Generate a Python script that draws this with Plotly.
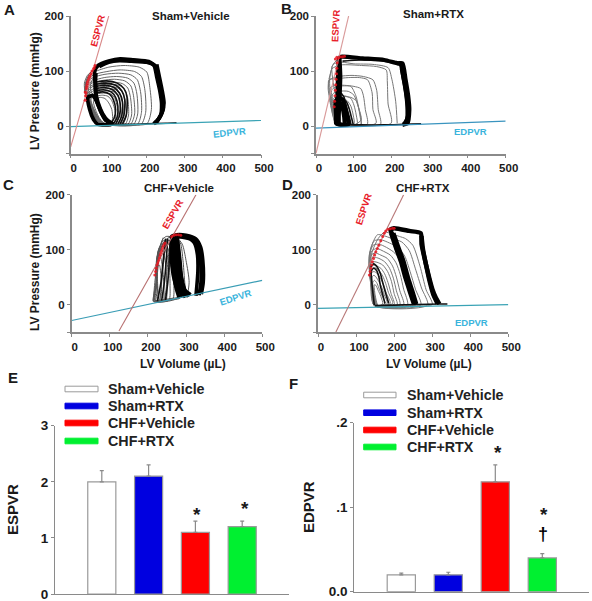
import plotly.graph_objects as go

W, H = 592, 601

# ---------- pressure-volume loop data (V uL, P mmHg) ----------
A_THICK = [
    [(218,4),(232,14),(243,30),(240,55),(232,80),(224,108),(205,117),(165,120),(130,122),(100,118),(72,110),(63,100),(64,80),(68,47),(78,28),(90,12),(108,3)],
    [(222,5),(236,18),(239,40),(234,65),(226,90),(219,110),(200,116),(160,118),(128,119),(100,116),(75,108)],
    [(226,7),(240,25),(245,42),(240,65),(232,92),(226,112)],
    [(107,3),(92,12),(80,25),(68,45),(58,55),(45,52),(50,30),(60,12),(72,3),(90,2),(107,3)],
    [(112,3),(97,10),(84,22),(72,42),(66,60),(65,80),(66,96)],
]
A_MID = [
    [(105,4),(114,14),(118,30),(112,48),(102,58),(84,62),(68,60)],
    [(112,4),(122,16),(124,36),(118,52),(106,62),(86,66),(68,64)],
    [(118,4),(128,18),(130,40),(124,56),(110,66),(88,70),(68,68)],
    [(124,4),(134,18),(136,44),(128,60),(114,70),(90,74),(68,72)],
    [(130,4),(140,20),(142,48),(134,64),(118,74),(92,78),(68,76)],
    [(136,4),(146,20),(148,52),(140,68),(122,78),(94,82),(68,80)],
    [(100,3),(150,3),(200,4),(250,5),(278,6)],
    [(66,92),(66,70),(70,44),(84,18),(100,4)],
]
A_THIN = [
    [(200,4),(212,30),(208,70),(200,98),(180,107),(140,110),(100,107),(62,98),(42,85),(38,62),(48,40),(62,18),(80,4),(140,3),(200,4)],
    [(185,3),(197,25),(195,65),(186,90),(168,99),(130,102),(95,99),(60,93),(40,80),(38,60),(50,35),(66,12),(85,3),(130,3),(185,3)],
    [(175,3),(186,25),(184,60),(175,84),(158,93),(125,96),(90,94),(58,88),(40,76),(39,58),(52,33),(68,12),(88,3),(175,3)],
    [(165,3),(176,22),(174,58),(166,78),(150,87),(120,90),(88,88),(58,82),(40,72),(40,56),(54,32),(70,10),(90,3),(165,3)],
    [(157,3),(168,22),(165,55),(158,73),(142,82),(115,85),(85,83),(56,78),(41,68),(41,54),(56,30),(72,10),(92,3),(157,3)],
    [(150,3),(160,20),(157,52),(150,69),(136,77),(110,80),(84,79),(56,74),(42,65),(42,52),(58,28),(74,10),(94,3),(150,3)],
    [(143,3),(152,20),(150,50),(143,65),(130,73),(106,76),(82,75),(56,71),(44,62),(44,52),(60,28),(76,9),(95,3),(143,3)],
    [(136,3),(146,18),(143,46),(136,61),(124,69),(102,72),(80,71),(58,67),(46,60),(46,52),(62,26),(78,8),(96,3),(136,3)],
    [(130,3),(138,18),(136,44),(130,58),(118,66),(98,68),(78,67),(60,64),(48,58),(48,50),(64,24),(80,8),(98,3),(130,3)],
    [(124,3),(132,16),(130,40),(124,54),(112,62),(94,64),(76,63),(60,60),(50,55),(50,48),(66,22),(82,7),(100,3),(124,3)],
    [(118,3),(125,16),(122,36),(116,50),(106,58),(90,60),(74,59),(62,57),(52,53),(52,46),(68,20),(84,6),(118,3)],
    [(112,3),(118,14),(115,32),(108,46),(98,54),(84,56),(72,55),(62,53),(54,50),(55,42),(70,18),(86,5),(112,3)],
    [(105,3),(110,14),(108,30),(100,42),(90,50),(78,52),(68,50),(60,46),(62,36),(74,16),(88,5),(105,3)],
    [(60,102),(44,92),(36,78),(38,60),(44,50)],
    [(64,104),(50,96),(42,84),(42,66),(48,52)],
    [(66,98),(54,90),(46,78),(48,62),(54,54)],
    [(70,96),(58,86),(52,74),(54,62),(60,56)],
]
A_ES_V = [38,39,38,40,41,42,43,44,46,48,50,53,56,60,64,62]
A_ES_P = [47,55,62,60,68,72,76,80,84,88,91,95,100,104,110,106]

B_THICK = [
    [(228,2),(241,5),(246,29),(243,55),(236,85),(228,114),(215,114),(180,120),(123,123),(66,126),(61,123),(58,90),(56,50),(54,20),(53,5),(70,2)],
    [(232,3),(240,12),(241,35),(237,62),(230,90),(223,112),(210,115)],
    [(236,4),(243,20),(240,50),(233,80),(226,105)],
    [(62,122),(64,90),(62,50),(60,20),(60,4)],
    [(85,3),(82,18),(76,36),(70,48),(60,52),(52,45),(53,20),(55,4),(85,3)],
    [(76,3),(74,18),(70,34),(66,44)],
]
B_MID = [
    [(92,3),(88,16),(80,35),(74,52),(66,60)],
    [(98,3),(94,14),(88,30),(80,44),(68,50)],
    [(70,118),(120,120),(180,118),(222,111)],
    [(70,3),(120,2),(180,2),(230,3),(277,4)],
]
B_THIN = [
    [(198,5),(190,40),(188,80),(185,102),(160,108),(120,110),(66,111),(42,104),(36,84),(38,55),(46,20),(52,4),(100,2),(198,5)],
    [(170,3),(164,30),(160,65),(150,84),(125,90),(95,92),(60,90),(36,84),(32,70),(38,40),(48,12),(55,3),(100,2),(170,3)],
    [(158,5),(150,30),(148,60),(136,84),(115,88),(85,88),(55,86),(34,84),(36,55),(44,20),(54,3),(158,5)],
    [(135,3),(130,30),(125,55),(118,68),(100,72),(75,74),(52,74),(38,70),(40,45),(48,15),(56,3),(135,3)],
    [(119,11),(112,35),(105,55),(92,72),(75,73),(55,72),(42,66),(42,40),(50,12),(58,3),(100,2),(119,11)],
    [(118,3),(118,16),(110,38),(100,56),(85,63),(60,63),(44,58),(46,30),(54,6),(118,3)],
    [(108,3),(106,20),(100,38),(92,50),(75,55),(58,55),(46,50),(50,22),(56,4),(108,3)],
    [(100,3),(98,20),(92,36),(82,46),(68,50),(54,47),(50,30),(56,6),(100,3)],
    [(120,3),(116,18),(112,34),(106,46),(92,52),(72,54)],
    [(214,5),(210,45),(200,85),(190,106),(150,112),(100,113),(68,116),(50,114),(42,108),(50,60)],
    [(55,120),(45,112),(38,95),(34,85)],
]
B_ES_V = [48,49,50,51,52,53,54,55,56,57,51,55,60,65,70,75]
B_ES_P = [35,45,55,65,75,85,95,105,115,123,122,125,124,126,126,127]

C_THICK = [
    [(340,19),(345,40),(344,80),(338,105),(325,120),(300,126),(275,127),(262,124),(270,90),(276,50),(290,30),(312,18)],
    [(334,17),(339,40),(338,80),(332,106),(318,120),(296,124),(272,124),(264,122),(267,90),(272,55),(284,32),(306,18)],
    [(326,16),(331,60),(330,90),(322,112),(305,122),(285,124),(268,122),(262,90),(266,55),(278,28),(300,15)],
    [(306,14),(296,28),(288,50),(284,80),(280,105),(278,122),(296,125),(316,119)],
    [(298,13),(288,28),(282,50),(277,80),(274,105),(272,122)],
    [(302,16),(292,34),(285,60),(281,90),(277,118)],
    [(290,14),(280,34),(274,60),(270,90),(267,120)],
    [(282,12),(274,30),(268,55),(265,90),(263,118)],
    [(310,120),(295,122),(280,124),(265,124)],
]
C_MID = [
    [(246,8),(252,40),(256,80),(258,118)],
    [(236,7),(243,40),(248,80),(252,120)],
    [(225,6),(234,40),(240,80),(246,120)],
]
C_THIN = [
    [(300,15),(308,40),(300,80),(290,110),(275,122),(255,122),(240,112),(230,90),(226,65),(222,35),(216,8),(240,9),(270,12),(300,15)],
    [(285,12),(290,40),(283,80),(272,108),(258,116),(245,115),(232,100),(224,75),(222,45),(216,20),(214,6),(245,8),(285,12)],
    [(275,11),(278,35),(272,70),(262,100),(250,114),(240,116),(228,100),(222,70),(222,40),(216,15),(216,5),(275,11)],
    [(265,10),(268,35),(264,70),(256,96),(246,110),(236,110),(226,92),(221,65),(222,35),(218,8),(265,10)],
    [(255,8),(258,35),(256,70),(250,90),(240,106),(230,104),(224,85),(221,60),(222,30),(220,6),(255,8)],
    [(247,8),(250,30),(248,60),(244,85),(236,100),(228,98),(222,78),(222,50),(224,25),(222,6),(247,8)],
    [(240,7),(242,30),(240,55),(236,78),(230,92),(226,88),(224,65),(224,40),(226,18),(226,6),(240,7)],
    [(300,16),(296,45),(292,80),(285,112),(270,122),(248,124),(238,118),(228,95),(222,60)],
    [(232,6),(236,30),(234,55),(230,72),(226,70),(225,45),(228,15),(232,6)],
    [(240,122),(234,108),(226,88),(223,70),(218,40),(214,6)],
    [(250,120),(245,100),(240,70),(236,40),(232,12)],
    [(262,122),(255,95),(250,60),(248,30),(244,10)],
]
C_ES_V = [218,220,222,224,226,228,230,232,234,236,238,240,243,245,262,268,274,280,286]
C_ES_P = [54,60,66,72,76,80,85,90,94,98,102,106,110,112,124,126,127,127,126]

D_THICK = [
    [(319,1),(310,12),(301,27),(290,55),(279,87),(272,110),(270,130),(240,134),(200,139),(190,136),(196,127),(208,100),(222,75),(235,45),(247,18),(257,0)],
    [(314,2),(303,18),(294,40),(284,72),(276,100),(272,125)],
    [(252,1),(242,22),(230,48),(218,78),(204,105),(192,130)],
    [(258,1),(247,26),(236,50),(224,80),(210,106),(198,130)],
]
D_MID = [
    [(176,2),(170,18),(164,34),(160,50),(154,62),(146,66),(140,60),(142,36),(148,-1)],
    [(186,2),(178,20),(170,40),(164,56),(156,68),(146,74),(139,68)],
    [(150,-2),(200,-1),(260,0),(320,1),(340,1)],
]
D_THIN = [
    [(300,0),(284,27),(268,70),(249,108),(230,120),(214,124),(196,128),(175,132),(158,120),(142,95),(136,60),(142,25),(148,-1),(220,-1),(300,0)],
    [(288,-1),(272,30),(256,65),(240,98),(220,114),(195,120),(170,126),(156,127),(140,105),(135,75),(138,40),(148,-2),(288,-1)],
    [(270,-1),(256,28),(242,60),(228,88),(210,104),(188,112),(165,118),(148,116),(136,96),(134,72),(140,30),(148,-2),(270,-1)],
    [(250,-1),(238,30),(228,58),(216,82),(198,96),(180,104),(160,110),(145,108),(135,90),(135,65),(142,25),(148,-2),(250,-1)],
    [(235,-1),(225,28),(216,55),(205,76),(190,90),(172,97),(155,102),(142,98),(135,82),(136,60),(142,22),(149,-2),(235,-1)],
    [(225,-1),(215,25),(206,50),(196,70),(182,84),(165,90),(150,94),(140,90),(136,75),(137,55),(144,20),(150,-2),(225,-1)],
    [(215,-1),(206,25),(198,48),(188,66),(175,78),(160,84),(148,86),(139,82),(136,68),(138,50),(145,20),(150,-2),(215,-1)],
    [(208,-1),(200,20),(193,42),(183,60),(170,72),(155,77),(145,78),(138,74),(136,60),(140,40),(146,15),(152,-2),(208,-1)],
    [(200,0),(192,20),(184,40),(175,56),(165,66),(152,71),(143,72),(137,66),(138,50),(142,30),(148,10),(152,-2),(200,0)],
    [(196,2),(185,22),(178,38),(170,52),(160,62),(150,67),(142,66),(138,58),(140,42),(146,18),(154,-2),(196,2)],
    [(190,2),(180,20),(172,36),(164,48),(155,57),(147,60),(141,58),(140,45),(145,22),(155,-2),(190,2)],
    [(182,2),(174,18),(166,34),(158,44),(150,52),(145,53),(142,48),(146,24),(156,-2),(182,2)],
    [(176,2),(168,16),(160,30),(154,40),(148,44),(144,40),(148,20),(157,-2),(176,2)],
    [(170,1),(165,15),(158,26),(152,35),(148,36),(150,18),(158,-2),(170,1)],
]
D_ES_V = [135,137,139,141,143,146,149,152,156,160,165,170,174,178,184,190,196,200]
D_ES_P = [54,60,66,72,78,84,90,96,102,108,116,124,130,134,137,138,139,139]

# ---------- ESPVR / EDPVR endpoints ----------
ESPVR_V = {"A": [0, 100], "B": [0, 86], "C": [124, 326], "D": [47, 225]}
ESPVR_P = {"A": [-38, 200], "B": [-50, 200], "C": [-48, 200], "D": [-50, 200]}
EDPVR_V = [0, 500]
EDPVR_P = {"A": [-1, 10], "B": [-4, 9], "C": [-29, 44], "D": [-7, 0]}

# ---------- bar data ----------
GROUPS = ["Sham+Vehicle", "Sham+RTX", "CHF+Vehicle", "CHF+RTX"]
COLORS = ["#ffffff", "#0000e0", "#ff0000", "#00f030"]
ESPVR_VAL = [2.0, 2.1, 1.1, 1.2]
ESPVR_ERR = [0.2, 0.2, 0.2, 0.1]
EDPVR_VAL = [0.02, 0.02, 0.13, 0.04]
EDPVR_ERR = [0.002, 0.003, 0.02, 0.005]

FONT = "Liberation Sans"
AX = "#8a8a8a"
fig = go.Figure()

def px(x): return x / W
def py(y): return 1 - y / H

def text(s, x, y, size=12, color="#1a1a1a", angle=0, anchor="center", bold=True):
    fig.add_annotation(text=f"<b>{s}</b>" if bold else s, x=px(x), y=py(y), xref="paper", yref="paper",
                       showarrow=False, xanchor=anchor, yanchor="middle", textangle=angle,
                       font=dict(family=FONT, size=size, color=color))

panels = {
    "A": dict(xd=(70.7, 261), yd=(16, 153.5), thick=A_THICK, mid=A_MID, thin=A_THIN, es=(A_ES_V, A_ES_P), n=1, cy="#3aa3b5", cr="#d98a8a", tw=3.8, tc="#666666"),
    "B": dict(xd=(316, 505.7), yd=(16, 153.5), thick=B_THICK, mid=B_MID, thin=B_THIN, es=(B_ES_V, B_ES_P), n=2, cy="#3a94bf", cr="#d99a9a", tw=4.2, tc="#777777"),
    "C": dict(xd=(71.7, 262.3), yd=(194.7, 332), thick=C_THICK, mid=C_MID, thin=C_THIN, es=(C_ES_V, C_ES_P), n=3, cy="#3a9db5", cr="#b87070", tw=3.6, tc="#555555"),
    "D": dict(xd=(318, 508.3), yd=(194.7, 332), thick=D_THICK, mid=D_MID, thin=D_THIN, es=(D_ES_V, D_ES_P), n=4, cy="#3aa3b5", cr="#b87878", tw=4.4, tc="#777777"),
}

layout_axes = {}
tick_font = dict(family=FONT, size=11.5, color="#1a1a1a", weight="bold")
for key, p in panels.items():
    n = p["n"]
    xname, yname = f"x{n}", f"y{n}"
    sx = dict(anchor=yname, domain=[px(p["xd"][0]), px(p["xd"][1])], range=[0, 500], automargin=False,
              tickvals=[0, 100, 200, 300, 400, 500], ticks="outside", ticklen=3, tickcolor=AX,
              showline=True, linecolor=AX, linewidth=1.5, showgrid=False, zeroline=False,
              tickfont=tick_font, ticklabelshift=3)
    sy = dict(anchor=xname, domain=[py(p["yd"][1]), py(p["yd"][0])], range=[-50, 200], automargin=False,
              tickvals=[-50, 0, 100, 200], ticktext=["", "0", "100", "200"], ticks="outside", ticklen=3, tickcolor=AX,
              showline=True, linecolor=AX, linewidth=1.5, showgrid=False, zeroline=False,
              tickfont=tick_font)
    layout_axes[f"xaxis{n}"] = sx
    layout_axes[f"yaxis{n}"] = sy
    for lp in p["thin"]:
        fig.add_trace(go.Scatter(x=[a for a, _ in lp], y=[b for _, b in lp], xaxis=xname, yaxis=yname, mode="lines",
                                 line=dict(color=p["tc"], width=1, shape="spline", smoothing=0.7),
                                 showlegend=False, hoverinfo="skip"))
    for lp in p["mid"]:
        fig.add_trace(go.Scatter(x=[a for a, _ in lp], y=[b for _, b in lp], xaxis=xname, yaxis=yname, mode="lines",
                                 line=dict(color="#111111", width=1.6, shape="spline", smoothing=0.7),
                                 showlegend=False, hoverinfo="skip"))
    for lp in p["thick"]:
        fig.add_trace(go.Scatter(x=[a for a, _ in lp], y=[b for _, b in lp], xaxis=xname, yaxis=yname, mode="lines",
                                 line=dict(color="#000000", width=p["tw"], shape="spline", smoothing=0.6),
                                 showlegend=False, hoverinfo="skip"))
    fig.add_trace(go.Scatter(x=EDPVR_V, y=EDPVR_P[key], xaxis=xname, yaxis=yname, mode="lines",
                             line=dict(color=p["cy"], width=1.2), showlegend=False, hoverinfo="skip"))
    fig.add_trace(go.Scatter(x=ESPVR_V[key], y=ESPVR_P[key], xaxis=xname, yaxis=yname, mode="lines",
                             line=dict(color=p["cr"], width=1.1), showlegend=False, hoverinfo="skip"))
    fig.add_trace(go.Scatter(x=p["es"][0], y=p["es"][1], xaxis=xname, yaxis=yname, mode="markers",
                             marker=dict(color="#e8141e", size=3), opacity=0.85, showlegend=False, hoverinfo="skip"))

# bars
bar_panels = [
    dict(n=5, vals=ESPVR_VAL, errs=ESPVR_ERR, xd=(55, 289), yd=(425.7, 594), rng=[0, 3], tv=[0, 1, 2, 3], tt=["0", "1", "2", "3"]),
    dict(n=6, vals=EDPVR_VAL, errs=EDPVR_ERR, xd=(354.3, 589.3), yd=(422.7, 591.7), rng=[0, 0.2], tv=[0, 0.1, 0.2], tt=["0.0", ".1", ".2"]),
]
for b in bar_panels:
    n = b["n"]
    fig.add_trace(go.Bar(x=[0, 1, 2, 3], y=b["vals"], width=0.6, xaxis=f"x{n}", yaxis=f"y{n}",
                         marker=dict(color=COLORS, line=dict(color="#9a9a9a", width=1.2)),
                         error_y=dict(type="data", symmetric=False, array=b["errs"], arrayminus=[0, 0, 0, 0],
                                      color="#8a8a8a", thickness=1.2, width=2),
                         showlegend=False, hoverinfo="skip"))
    layout_axes[f"xaxis{n}"] = dict(anchor=f"y{n}", domain=[px(b["xd"][0]), px(b["xd"][1])], range=[-1, 4], automargin=False,
                                    showticklabels=False, ticks="", showgrid=False, zeroline=False,
                                    showline=True, linecolor=AX, linewidth=1.3)
    layout_axes[f"yaxis{n}"] = dict(anchor=f"x{n}", domain=[py(b["yd"][1]), py(b["yd"][0])], range=b["rng"], automargin=False,
                                    tickvals=b["tv"], ticktext=b["tt"], ticks="outside", ticklen=3, tickcolor=AX,
                                    showline=True, linecolor=AX, linewidth=1.3, showgrid=False, zeroline=False,
                                    ticklabeloverflow="allow",
                                    tickfont=dict(family=FONT, size=13.5, color="#1a1a1a", weight="bold"))

# panel letters
for s, x, y in [("A", 9, 10), ("B", 286, 9), ("C", 8, 185), ("D", 287, 185), ("E", 13, 377), ("F", 293, 383)]:
    text(s, x, y, size=15)

# panel titles
text("Sham+Vehicle", 190.7, 16, 11.5)
text("Sham+RTX", 433.7, 14, 11.5)
text("CHF+Vehicle", 179, 188, 11.5)
text("CHF+RTX", 422.7, 188, 11.5)

# axis titles
text("LV Pressure (mmHg)", 35, 91, 12, angle=-90)
text("LV Pressure (mmHg)", 35, 272, 12, angle=-90)
text("LV Volume (µL)", 183, 364, 12)
text("LV Volume (µL)", 429, 364, 12)
text("ESPVR", 12, 510, 15, angle=-90)
text("EDPVR", 308, 507, 15, angle=-90)

# relation labels
RED, CYAN = "#e8202a", "#3ab4dc"
text("ESPVR", 98, 31, 9.5, RED, -75)
text("ESPVR", 336, 26, 9.5, RED, -87)
text("ESPVR", 172, 214, 9.5, RED, -60)
text("ESPVR", 363, 209, 9.5, RED, -72)
text("EDPVR", 229, 132, 9.5, CYAN, -6)
text("EDPVR", 470, 131, 9.5, CYAN)
text("EDPVR", 235, 297, 9.5, CYAN, -18)
text("EDPVR", 471, 322, 9.5, CYAN)

# bar legends
for x0, x1, tx, ys in [(65, 98, 106, [389, 406, 423, 441]), (363.7, 396, 405, [395, 412.7, 430, 447])]:
    for g, c, y in zip(GROUPS, COLORS, ys):
        fig.add_shape(type="rect", xref="paper", yref="paper", x0=px(x0), x1=px(x1), y0=py(y - 2.8), y1=py(y + 2.8),
                      fillcolor=c, line=dict(color="#9a9a9a" if c == "#ffffff" else c, width=1))
        text(g, tx, y, 14.3, "#222222", anchor="left")

# significance marks
text("*", 197, 514, 19)
text("*", 245, 508, 19)
text("*", 498, 452, 19)
text("*", 544, 514, 19)
text("†", 542.7, 534, 18, "#000000")

fig.update_layout(width=W, height=H, margin=dict(l=0, r=0, t=0, b=0), paper_bgcolor="white", plot_bgcolor="white",
                  autosize=False, showlegend=False, **layout_axes)
fig.write_html("out.html", config={"displayModeBar": False},
               post_script="document.body.style.margin='0';document.documentElement.style.overflow='hidden';")
